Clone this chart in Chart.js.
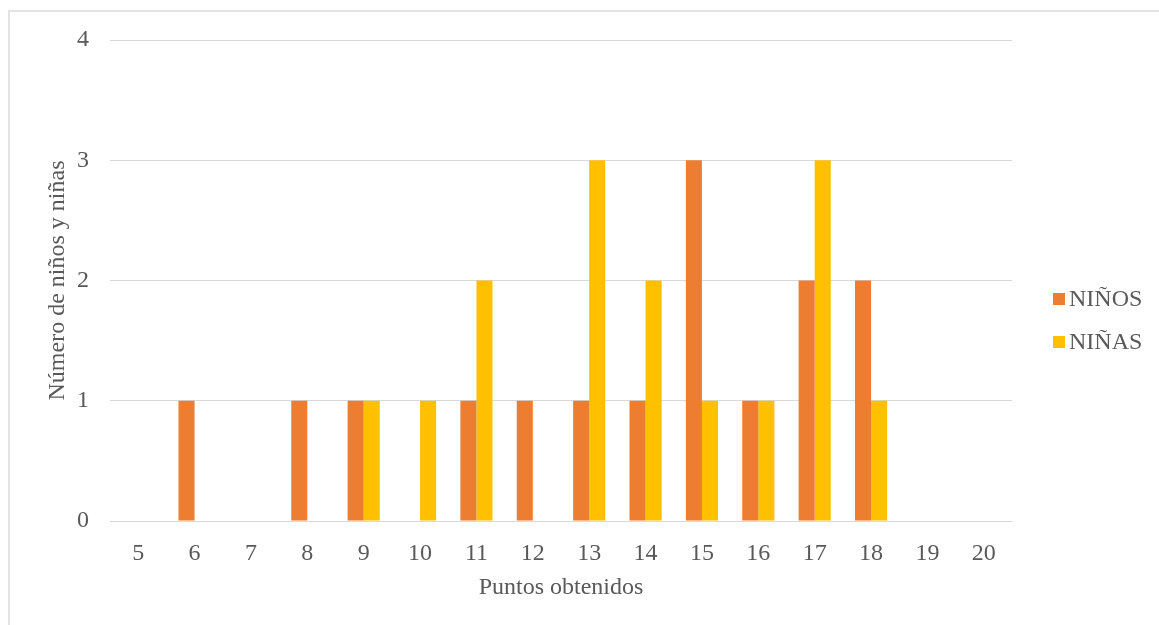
<!DOCTYPE html>
<html>
<head>
<meta charset="utf-8">
<script src="https://cdn.jsdelivr.net/npm/chart.js@4"></script>
<style>
    body { margin: 0; background: #fff; }
    #wrap { position: relative; width: 1159px; height: 625px; overflow: hidden; }
    #frame { position: absolute; left: 8px; top: 10px; width: 1160px; height: 630px;
             border-top: 2px solid #e3e3e3; border-left: 2px solid #e3e3e3; box-sizing: border-box; }
    canvas { position: absolute; left: 0; top: 0; }
</style>
</head>
<body>
<div id="wrap">
    <div id="frame"></div>
    <canvas id="chart" width="1159" height="625"></canvas>
</div>
<script>
// Puntos obtenidos (categorias del eje X)
const puntos = ['5', '6', '7', '8', '9', '10', '11', '12', '13', '14', '15', '16', '17', '18', '19', '20'];
// Número de niños por puntuación
const ninos = [0, 1, 0, 1, 1, 0, 1, 1, 1, 1, 3, 1, 2, 2, 0, 0];
// Número de niñas por puntuación
const ninas = [0, 0, 0, 0, 1, 1, 2, 0, 3, 2, 1, 1, 3, 1, 0, 0];
const yTicks = [0, 1, 2, 3, 4];

const FONT = "'Liberation Serif', 'Times New Roman', serif";
const TEXT = '#595959';
const GRID = '#d9d9d9';

// legend drawn next to the plot, like the Excel original
const sideLegend = {
    id: 'sideLegend',
    afterDraw(chart) {
        const ctx = chart.ctx;
        ctx.save();
        ctx.font = '24px ' + FONT;
        ctx.textBaseline = 'middle';
        ctx.textAlign = 'left';
        chart.data.datasets.forEach((ds, i) => {
            const y = 299 + i * 43;
            ctx.fillStyle = ds.backgroundColor;
            ctx.fillRect(1053, y - 6, 12, 12);
            ctx.fillStyle = TEXT;
            ctx.fillText(ds.label, 1069, y + 1);
        });
        ctx.restore();
    }
};

const ctx = document.getElementById('chart').getContext('2d');
new Chart(ctx, {
    type: 'bar',
    data: {
        labels: puntos,
        datasets: [
            { label: 'NIÑOS', data: ninos, backgroundColor: '#ED7D31' },
            { label: 'NIÑAS', data: ninas, backgroundColor: '#FFC000' },
        ]
    },
    options: {
        responsive: false,
        animation: false,
        layout: { padding: { left: 0, top: 40, right: 147, bottom: 0 } },
        datasets: { bar: { categoryPercentage: 0.57, barPercentage: 1 } },
        plugins: {
            legend: { display: false },
            tooltip: { enabled: false },
        },
        scales: {
            x: {
                grid: { display: false },
                border: { display: false },
                ticks: { color: TEXT, font: { family: FONT, size: 24 }, padding: 10, maxRotation: 0, autoSkip: false },
                title: { display: true, text: 'Puntos obtenidos', color: TEXT, font: { family: FONT, size: 24 }, padding: { bottom: 23 } },
                afterFit(scale) { scale.height = 104; }
            },
            y: {
                min: 0,
                max: 4,
                afterBuildTicks(scale) { scale.ticks = yTicks.map(v => ({ value: v })); },
                grid: { color: GRID, lineWidth: 1, drawTicks: false },
                border: { display: false },
                ticks: { color: TEXT, font: { family: FONT, size: 24 }, padding: 21 },
                title: { display: true, text: 'Número de niños y niñas', color: TEXT, font: { family: FONT, size: 24 }, padding: { top: 43 } },
                afterFit(scale) { scale.width = 110; }
            }
        }
    },
    plugins: [sideLegend]
});
</script>
</body>
</html>
